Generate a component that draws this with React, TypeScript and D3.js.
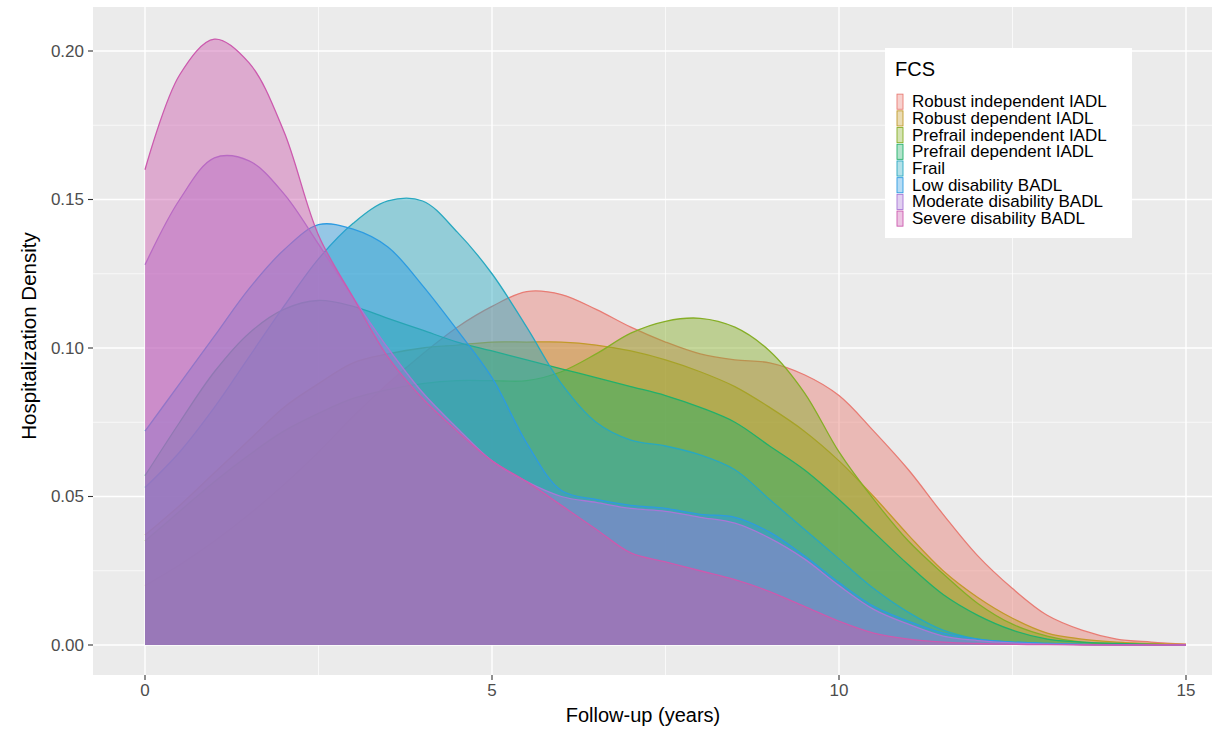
import React from "react"
import * as d3 from "d3"

const YEARS = [0, 0.5, 1, 1.5, 2, 2.5, 3, 3.5, 4, 4.5, 5, 5.5, 6, 6.5, 7, 7.5, 8, 8.5, 9, 9.5, 10, 10.5, 11, 11.5, 12, 12.5, 13, 13.5, 14, 14.5, 15]

const GROUPS = [
  "Robust independent IADL",
  "Robust dependent IADL",
  "Prefrail independent IADL",
  "Prefrail dependent IADL",
  "Frail",
  "Low disability BADL",
  "Moderate disability BADL",
  "Severe disability BADL",
]

// ggplot hues, toned down to match the scanned figure
const COLORS = ["#E87C74", "#C29A2A", "#86AE26", "#22B06A", "#28A8C0", "#2D9BE1", "#A877D6", "#CC5AAE"]

// density, one value per entry of YEARS
const ROBUST_INDEPENDENT = [0.020, 0.027, 0.035, 0.044, 0.054, 0.065, 0.077, 0.088, 0.098, 0.107, 0.114, 0.119, 0.118, 0.113, 0.107, 0.102, 0.098, 0.096, 0.095, 0.091, 0.084, 0.072, 0.059, 0.044, 0.030, 0.019, 0.010, 0.005, 0.002, 0.001, 0.0003]
const ROBUST_DEPENDENT = [0.037, 0.047, 0.058, 0.069, 0.080, 0.088, 0.095, 0.098, 0.100, 0.101, 0.102, 0.102, 0.102, 0.101, 0.099, 0.096, 0.092, 0.087, 0.080, 0.072, 0.062, 0.050, 0.037, 0.025, 0.016, 0.009, 0.004, 0.002, 0.001, 0.0005, 0.0002]
const PREFRAIL_INDEPENDENT = [0.035, 0.045, 0.055, 0.064, 0.072, 0.078, 0.083, 0.086, 0.088, 0.089, 0.089, 0.089, 0.092, 0.098, 0.105, 0.109, 0.110, 0.107, 0.099, 0.085, 0.065, 0.049, 0.035, 0.024, 0.014, 0.007, 0.003, 0.001, 0.0005, 0.0002, 0.0001]
const PREFRAIL_DEPENDENT = [0.057, 0.075, 0.092, 0.105, 0.113, 0.116, 0.114, 0.110, 0.106, 0.102, 0.099, 0.096, 0.093, 0.090, 0.087, 0.084, 0.080, 0.075, 0.067, 0.059, 0.049, 0.038, 0.027, 0.017, 0.010, 0.005, 0.002, 0.001, 0.0005, 0.0002, 0.0001]
const FRAIL = [0.053, 0.065, 0.080, 0.097, 0.114, 0.130, 0.142, 0.1495, 0.1495, 0.139, 0.125, 0.107, 0.088, 0.075, 0.069, 0.067, 0.064, 0.059, 0.049, 0.039, 0.029, 0.019, 0.011, 0.005, 0.002, 0.001, 0.0005, 0.0002, 0.0001, 0, 0]
const LOW_DISABILITY = [0.072, 0.088, 0.104, 0.120, 0.133, 0.1415, 0.140, 0.134, 0.121, 0.106, 0.090, 0.068, 0.052, 0.049, 0.047, 0.046, 0.044, 0.043, 0.038, 0.030, 0.021, 0.013, 0.008, 0.004, 0.002, 0.001, 0.0005, 0.0002, 0.0001, 0, 0]
const MODERATE_DISABILITY = [0.128, 0.150, 0.164, 0.163, 0.152, 0.135, 0.117, 0.100, 0.085, 0.073, 0.062, 0.055, 0.050, 0.048, 0.046, 0.045, 0.043, 0.041, 0.036, 0.029, 0.020, 0.012, 0.007, 0.003, 0.0015, 0.0007, 0.0003, 0.0001, 0, 0, 0]
const SEVERE_DISABILITY = [0.160, 0.192, 0.204, 0.196, 0.173, 0.138, 0.117, 0.097, 0.083, 0.072, 0.062, 0.055, 0.047, 0.039, 0.031, 0.028, 0.025, 0.022, 0.018, 0.013, 0.008, 0.004, 0.002, 0.001, 0.0005, 0.0002, 0.0001, 0, 0, 0, 0]

const DENSITIES = [
  ROBUST_INDEPENDENT,
  ROBUST_DEPENDENT,
  PREFRAIL_INDEPENDENT,
  PREFRAIL_DEPENDENT,
  FRAIL,
  LOW_DISABILITY,
  MODERATE_DISABILITY,
  SEVERE_DISABILITY,
]

const X_TICKS = [0, 5, 10, 15]
const X_MINOR = [2.5, 7.5, 12.5]
const Y_TICKS = [0, 0.05, 0.1, 0.15, 0.2]
const Y_MINOR = [0.025, 0.075, 0.125, 0.175]

const W = 1219
const H = 730
const panel = { left: 93, right: 1212, top: 7, bottom: 675 }
const FONT = "'Liberation Sans', Arial, Helvetica, sans-serif"
const FILL_ALPHA = 0.45

export default function App() {
  const x = d3.scaleLinear().domain([0, 15]).range([145, 1186])
  const y = d3.scaleLinear().domain([0, 0.2]).range([645, 51])

  const curve = d3.curveCatmullRom.alpha(0.5)
  const area = d3
    .area<number>()
    .x((_, i) => x(YEARS[i]))
    .y0(y(0))
    .y1(d => y(d))
    .curve(curve)
  const line = d3
    .line<number>()
    .x((_, i) => x(YEARS[i]))
    .y(d => y(d))
    .curve(curve)

  const legendX = 885
  const legendY = 48
  const rowH = 16.7
  const firstRow = 101.7

  return (
    <div style={{ position: "absolute", left: 0, top: 0 }}>
      <svg width={W} height={H} style={{ display: "block", background: "#fff", fontFamily: FONT }}>
        {/* panel + grid */}
        <rect
          x={panel.left}
          y={panel.top}
          width={panel.right - panel.left}
          height={panel.bottom - panel.top}
          fill="#EBEBEB"
        />
        {Y_MINOR.map(t => (
          <line key={"ym" + t} x1={panel.left} x2={panel.right} y1={y(t)} y2={y(t)} stroke="#fff" strokeWidth={0.7} />
        ))}
        {X_MINOR.map(t => (
          <line key={"xm" + t} x1={x(t)} x2={x(t)} y1={panel.top} y2={panel.bottom} stroke="#fff" strokeWidth={0.7} />
        ))}
        {Y_TICKS.map(t => (
          <line key={"yg" + t} x1={panel.left} x2={panel.right} y1={y(t)} y2={y(t)} stroke="#fff" strokeWidth={1.4} />
        ))}
        {X_TICKS.map(t => (
          <line key={"xg" + t} x1={x(t)} x2={x(t)} y1={panel.top} y2={panel.bottom} stroke="#fff" strokeWidth={1.4} />
        ))}

        {/* densities, drawn in group order like ggplot */}
        {DENSITIES.map((vals, i) => (
          <g key={GROUPS[i]}>
            <path d={area(vals) ?? ""} fill={COLORS[i]} fillOpacity={FILL_ALPHA} />
            <path d={line(vals) ?? ""} fill="none" stroke={COLORS[i]} strokeWidth={1.3} />
          </g>
        ))}

        {/* y axis */}
        {Y_TICKS.map(t => (
          <g key={"yt" + t}>
            <line x1={panel.left - 5} x2={panel.left} y1={y(t)} y2={y(t)} stroke="#333" strokeWidth={1.1} />
            <text
              x={panel.left - 9}
              y={y(t)}
              textAnchor="end"
              dominantBaseline="central"
              fontSize={17}
              fill="#4D4D4D"
            >
              {d3.format(".2f")(t)}
            </text>
          </g>
        ))}
        {/* x axis */}
        {X_TICKS.map(t => (
          <g key={"xt" + t}>
            <line x1={x(t)} x2={x(t)} y1={panel.bottom} y2={panel.bottom + 5} stroke="#333" strokeWidth={1.1} />
            <text x={x(t)} y={panel.bottom + 15} textAnchor="middle" dominantBaseline="central" fontSize={17} fill="#4D4D4D">
              {t}
            </text>
          </g>
        ))}

        <text x={643} y={722} textAnchor="middle" fontSize={20} fill="#000">
          Follow-up (years)
        </text>
        <text transform="translate(36, 336) rotate(-90)" textAnchor="middle" fontSize={20.5} fill="#000">
          Hospitalization Density
        </text>

        {/* legend */}
        <rect x={legendX} y={legendY} width={247} height={190} fill="#fff" />
        <text x={895} y={68.5} dominantBaseline="central" fontSize={20} fill="#000">
          FCS
        </text>
        {GROUPS.map((g, i) => {
          const cy = firstRow + i * rowH
          return (
            <g key={"lg" + g}>
              <rect
                x={897}
                y={cy - rowH / 2 + 0.8}
                width={6}
                height={rowH - 1.6}
                fill={COLORS[i]}
                fillOpacity={0.35}
                stroke={COLORS[i]}
                strokeWidth={0.9}
              />
              <text x={912} y={cy} dominantBaseline="central" fontSize={17} fill="#000">
                {g}
              </text>
            </g>
          )
        })}
      </svg>
    </div>
  )
}
